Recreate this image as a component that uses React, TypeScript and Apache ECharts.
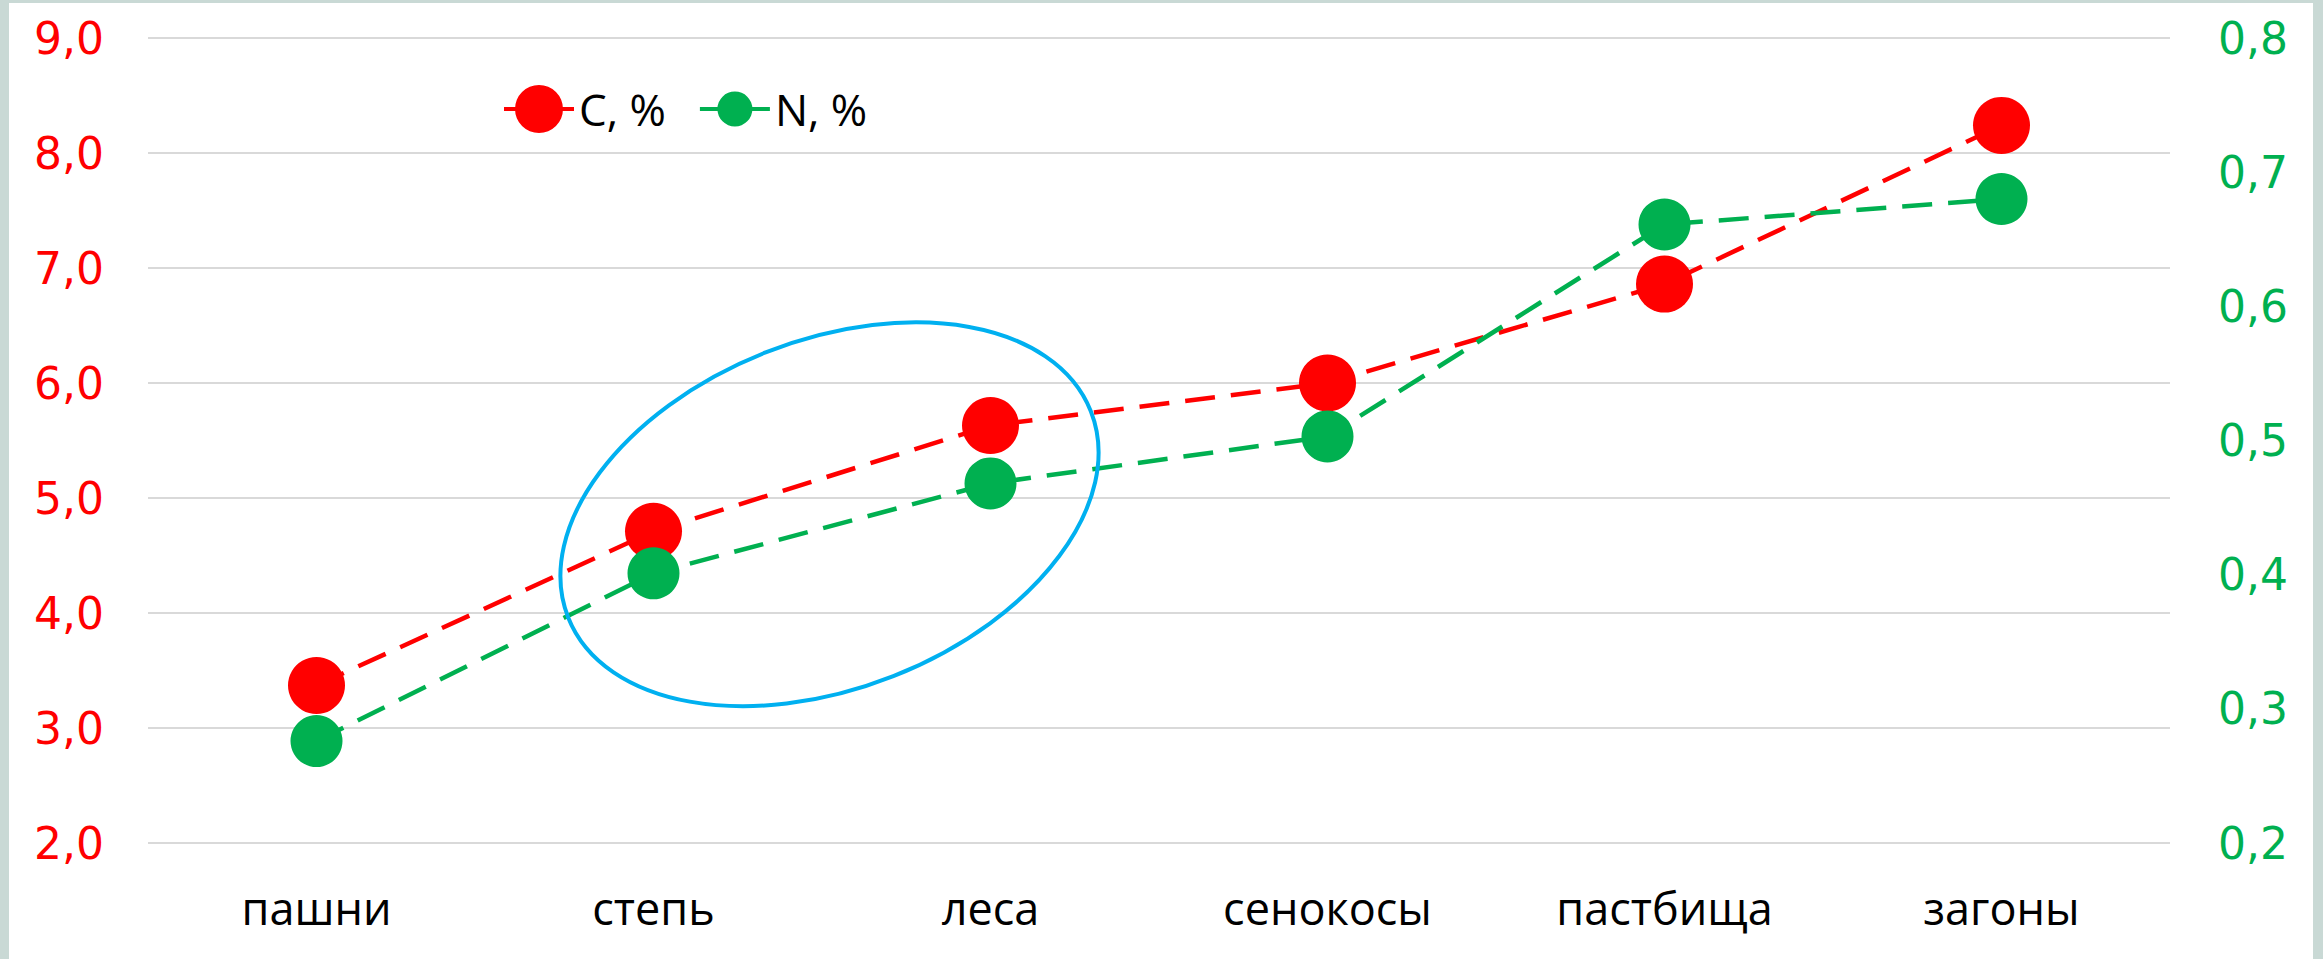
import React, { useEffect, useRef } from "react";
import * as echarts from "echarts";

// Land-use categories along the horizontal axis
const categories = ["пашни", "степь", "леса", "сенокосы", "пастбища", "загоны"];

// Carbon content, % (left axis)
const carbonValues = [3.37, 4.71, 5.63, 6.0, 6.86, 8.24];

// Nitrogen content, % (right axis)
const nitrogenValues = [0.276, 0.401, 0.468, 0.503, 0.661, 0.68];

const seriesNames = ["C, %", "N, %"];

const RED = "#ff0000";
const GREEN = "#00b050";
const ELLIPSE_BLUE = "#00b0f0";

const TICK_FONT = "'DejaVu Sans', Verdana, sans-serif";
const TEXT_FONT = "'Open Sans', 'Noto Sans', sans-serif";

const commaDecimal = (v: number) => v.toFixed(1).replace(".", ",");

// Legend icons: a short solid line with a filled circle on it
const redIcon =
  "path://M0,22L70,22L70,26L0,26Z M59,24A24,24,0,1,1,11,24A24,24,0,1,1,59,24Z";
const greenIcon =
  "path://M0,22L70,22L70,26L0,26Z M52.5,24A17.5,17.5,0,1,1,17.5,24A17.5,17.5,0,1,1,52.5,24Z";

export default function App() {
  const ref = useRef<HTMLDivElement>(null);

  useEffect(() => {
    if (!ref.current) return;
    const chart = echarts.init(ref.current, null, { renderer: "svg" });

    chart.setOption({
      animation: false,
      backgroundColor: "#ffffff",
      grid: { left: 139, right: 143, top: 35, bottom: 116 },
      legend: {
        left: 490,
        top: 77,
        itemWidth: 70,
        itemHeight: 48,
        itemGap: 34,
        itemStyle: { borderWidth: 0 },
        textStyle: { fontSize: 44, fontFamily: TEXT_FONT, color: "#000" },
        data: [
          { name: seriesNames[0], icon: redIcon },
          { name: seriesNames[1], icon: greenIcon },
        ],
      },
      xAxis: {
        type: "category",
        data: categories,
        boundaryGap: true,
        axisLine: { show: false },
        axisTick: { show: false },
        axisLabel: {
          margin: 42,
          fontSize: 45,
          fontFamily: TEXT_FONT,
          color: "#000",
        },
      },
      yAxis: [
        {
          type: "value",
          min: 2,
          max: 9,
          interval: 1,
          axisLine: { show: false },
          axisTick: { show: false },
          splitLine: { lineStyle: { color: "#d9d9d9", width: 2 } },
          axisLabel: {
            margin: 44,
            fontSize: 44,
            fontFamily: TICK_FONT,
            color: RED,
            formatter: commaDecimal,
          },
        },
        {
          type: "value",
          min: 0.2,
          max: 0.8,
          interval: 0.1,
          position: "right",
          axisLine: { show: false },
          axisTick: { show: false },
          splitLine: { show: false },
          axisLabel: {
            margin: 48,
            fontSize: 44,
            fontFamily: TICK_FONT,
            color: GREEN,
            formatter: commaDecimal,
          },
        },
      ],
      series: [
        {
          name: seriesNames[0],
          type: "line",
          yAxisIndex: 0,
          data: carbonValues,
          symbol: "circle",
          symbolSize: 57,
          itemStyle: { color: RED, borderWidth: 0 },
          lineStyle: { color: RED, width: 4.5, type: [30, 16] },
        },
        {
          name: seriesNames[1],
          type: "line",
          yAxisIndex: 1,
          data: nitrogenValues,
          symbol: "circle",
          symbolSize: 52,
          itemStyle: { color: GREEN, borderWidth: 0 },
          lineStyle: { color: GREEN, width: 4.5, type: [30, 16] },
        },
      ],
      graphic: [
        {
          type: "ellipse",
          x: 820.5,
          y: 511.3,
          rotation: (21.5 * Math.PI) / 180,
          shape: { cx: 0, cy: 0, rx: 281, ry: 174 },
          style: { fill: "none", stroke: ELLIPSE_BLUE, lineWidth: 4 },
          z: 100,
        },
      ],
    });

    return () => chart.dispose();
  }, []);

  return (
    <div
      style={{
        position: "fixed",
        left: 0,
        top: 0,
        width: 2323,
        height: 959,
        background: "#c9d9d5",
      }}
    >
      <div
        ref={ref}
        style={{
          position: "absolute",
          left: 9,
          top: 3,
          width: 2304,
          height: 956,
        }}
      />
    </div>
  );
}
